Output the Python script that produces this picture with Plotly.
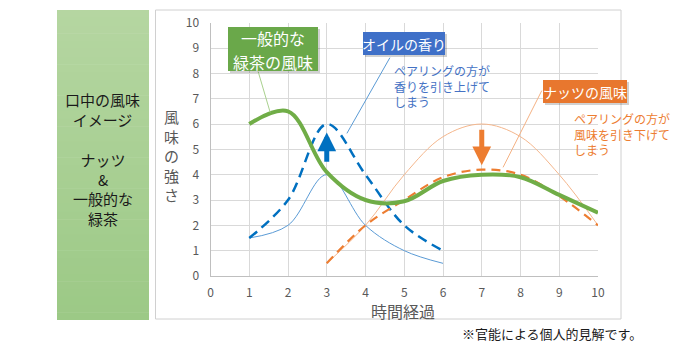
import plotly.graph_objects as go

W, H = 699, 346

# ---- data ----
green_x = [1, 2, 3, 4, 5, 6, 7, 8, 9, 10]
green_y = [6.0, 6.5, 4.1, 3.0, 2.95, 3.75, 4.0, 3.9, 3.2, 2.5]

oil_pair_x = [1, 2, 3, 4, 5, 6]
oil_pair_y = [1.5, 3.0, 6.0, 4.0, 2.0, 1.0]

oil_x = [1, 2, 3, 4, 5, 6]
oil_y = [1.5, 2.0, 4.0, 2.0, 1.0, 0.5]

nut_pair_x = [3, 4, 5, 6, 7, 8, 9, 10]
nut_pair_y = [0.5, 2.0, 3.0, 3.9, 4.2, 4.0, 3.15, 2.0]

nut_x = [3, 4, 5, 6, 7, 8, 9, 10]
nut_y = [0.5, 2.0, 4.0, 5.5, 6.0, 5.5, 4.0, 2.0]

x_ticks = list(range(0, 11))
y_ticks = list(range(0, 11))

panel_group1 = ["口中の風味", "イメージ"]
panel_group2 = ["ナッツ", "&", "一般的な", "緑茶"]
green_callout = ["一般的な", "緑茶の風味"]

FONT = "Noto Sans CJK JP"
GRAY = "#595959"

def px(x):
    return x / W

def py(y):
    return 1 - y / H

fig = go.Figure()

fig.add_trace(go.Scatter(x=nut_x, y=nut_y, mode="lines",
                         line=dict(color="#f4b68c", width=1, shape="spline", smoothing=1)))
fig.add_trace(go.Scatter(x=oil_x, y=oil_y, mode="lines",
                         line=dict(color="#5b9bd5", width=1, shape="spline", smoothing=1)))
fig.add_trace(go.Scatter(x=oil_pair_x, y=oil_pair_y, mode="lines",
                         line=dict(color="#0070c0", width=2.5, dash="10px,6px", shape="spline", smoothing=1)))
fig.add_trace(go.Scatter(x=nut_pair_x, y=nut_pair_y, mode="lines",
                         line=dict(color="#ed7d31", width=2.2, dash="9px,6px", shape="spline", smoothing=1)))
fig.add_trace(go.Scatter(x=green_x, y=green_y, mode="lines",
                         line=dict(color="#70ad47", width=4, shape="spline", smoothing=1)))

shapes = []
# left green panel (gradient with stripes)
top, bot = 10, 320
n = 40
c0 = (181, 214, 161)
c1 = (156, 201, 134)
for i in range(n):
    t = i / (n - 1)
    c = tuple(round(c0[k] + (c1[k] - c0[k]) * t) for k in range(3))
    y0 = top + (bot - top) * i / n
    y1 = top + (bot - top) * (i + 1) / n + 0.6
    shapes.append(dict(type="rect", xref="paper", yref="paper",
                       x0=px(57), x1=px(149), y0=py(min(y1, bot)), y1=py(y0),
                       line=dict(width=0), fillcolor="rgb(%d,%d,%d)" % c, layer="below"))
# chart area border
shapes.append(dict(type="rect", xref="paper", yref="paper",
                   x0=px(155.5), x1=px(621), y0=py(319), y1=py(10),
                   line=dict(color="#d0d0d0", width=1), fillcolor="rgba(0,0,0,0)", layer="below"))

# callout leader lines (data coords)
shapes.append(dict(type="line", xref="x", yref="y", x0=1.23, y0=8.07, x1=1.54, y1=6.46,
                   line=dict(color="#a9d18e", width=1)))
shapes.append(dict(type="line", xref="x", yref="y", x0=4.63, y0=8.62, x1=3.52, y1=5.63,
                   line=dict(color="#5b9bd5", width=1)))
shapes.append(dict(type="line", xref="x", yref="y", x0=8.55, y0=7.32, x1=7.55, y1=4.29,
                   line=dict(color="#f4b183", width=1)))

# callout boxes (with faint shadow)
boxes = [
    ((228, 27, 318, 71), "#6aa84a"),
    ((363, 32, 445, 55), "#3f70c8"),
    ((543, 80, 627, 103), "#e8772e"),
]
for (x0, y0, x1, y1), col in boxes:
    shapes.append(dict(type="rect", xref="paper", yref="paper",
                       x0=px(x0 + 2), x1=px(x1 + 2), y0=py(y1 + 2), y1=py(y0 + 2),
                       line=dict(width=0), fillcolor="rgba(0,0,0,0.18)"))
    shapes.append(dict(type="rect", xref="paper", yref="paper",
                       x0=px(x0), x1=px(x1), y0=py(y1), y1=py(y0),
                       line=dict(width=0), fillcolor=col))

annotations = [
    dict(text="<br>".join(panel_group1), xref="paper", yref="paper", x=px(103), y=py(109),
         xanchor="center", yanchor="middle", showarrow=False,
         font=dict(family=FONT, size=15, color="#1a1a1a")),
    dict(text="<br>".join(panel_group2), xref="paper", yref="paper", x=px(103), y=py(189),
         xanchor="center", yanchor="middle", showarrow=False,
         font=dict(family=FONT, size=15, color="#1a1a1a")),
    dict(text=green_callout[0], xref="paper", yref="paper", x=px(273), y=py(38.5),
         xanchor="center", yanchor="middle", showarrow=False,
         font=dict(family=FONT, size=16, color="white")),
    dict(text=green_callout[1], xref="paper", yref="paper", x=px(273), y=py(61.5),
         xanchor="center", yanchor="middle", showarrow=False,
         font=dict(family=FONT, size=16, color="white")),
    dict(text="オイルの香り", xref="paper", yref="paper", x=px(404), y=py(44),
         xanchor="center", yanchor="middle", showarrow=False,
         font=dict(family=FONT, size=14, color="white")),
    dict(text="ナッツの風味", xref="paper", yref="paper", x=px(585), y=py(92),
         xanchor="center", yanchor="middle", showarrow=False,
         font=dict(family=FONT, size=14, color="white")),
    dict(text="ペアリングの方が<br>香りを引き上げて<br>しまう", xref="paper", yref="paper",
         x=px(392), y=py(86), xanchor="left", yanchor="middle", align="left", showarrow=False,
         font=dict(family=FONT, size=12, color="#4472c4")),
    dict(text="ペアリングの方が<br>風味を引き下げて<br>しまう", xref="paper", yref="paper",
         x=px(572), y=py(134), xanchor="left", yanchor="middle", align="left", showarrow=False,
         font=dict(family=FONT, size=12, color="#ed7d31")),
    # axis titles
    dict(text="風<br>味<br>の<br>強<br>さ", xref="paper", yref="paper", x=px(171), y=py(155),
         xanchor="center", yanchor="middle", showarrow=False,
         font=dict(family=FONT, size=15, color=GRAY)),
    dict(text="時間経過", xref="paper", yref="paper", x=px(403), y=py(311),
         xanchor="center", yanchor="middle", showarrow=False,
         font=dict(family=FONT, size=16, color=GRAY)),
    dict(text="※官能による個人的見解です。", xref="paper", yref="paper", x=px(552), y=py(333),
         xanchor="center", yanchor="middle", showarrow=False,
         font=dict(family=FONT, size=13, color="#1a1a1a")),
    # arrows
    dict(x=3, y=5.67, ax=3, ay=4.45, xref="x", yref="y", axref="x", ayref="y", text="",
         showarrow=True, arrowhead=2, arrowwidth=5, arrowsize=0.75, arrowcolor="#0070c0"),
    dict(x=7, y=4.37, ax=7, ay=5.83, xref="x", yref="y", axref="x", ayref="y", text="",
         showarrow=True, arrowhead=2, arrowwidth=5, arrowsize=0.75, arrowcolor="#ed7d31"),
]

fig.update_layout(
    width=W, height=H, margin=dict(l=0, r=0, t=0, b=0, autoexpand=False),
    paper_bgcolor="white", plot_bgcolor="white", showlegend=False,
    shapes=shapes, annotations=annotations,
    xaxis=dict(domain=[px(210.5), px(598)], range=[0, 10], tickvals=x_ticks, automargin=False,
               showgrid=True, gridcolor="#d9d9d9", gridwidth=1, zeroline=False,
               showline=True, linecolor="#bfbfbf", ticks="", ticklabelstandoff=6,
               tickfont=dict(family=FONT, size=12, color=GRAY), fixedrange=True),
    yaxis=dict(domain=[1 - 276 / H, 1 - 22.7 / H], range=[0, 10], tickvals=y_ticks, automargin=False,
               showgrid=True, gridcolor="#d9d9d9", gridwidth=1, zeroline=False,
               showline=True, linecolor="#bfbfbf", ticks="", ticklabelstandoff=8,
               tickfont=dict(family=FONT, size=12, color=GRAY), fixedrange=True),
)

fig.write_html("out.html")
